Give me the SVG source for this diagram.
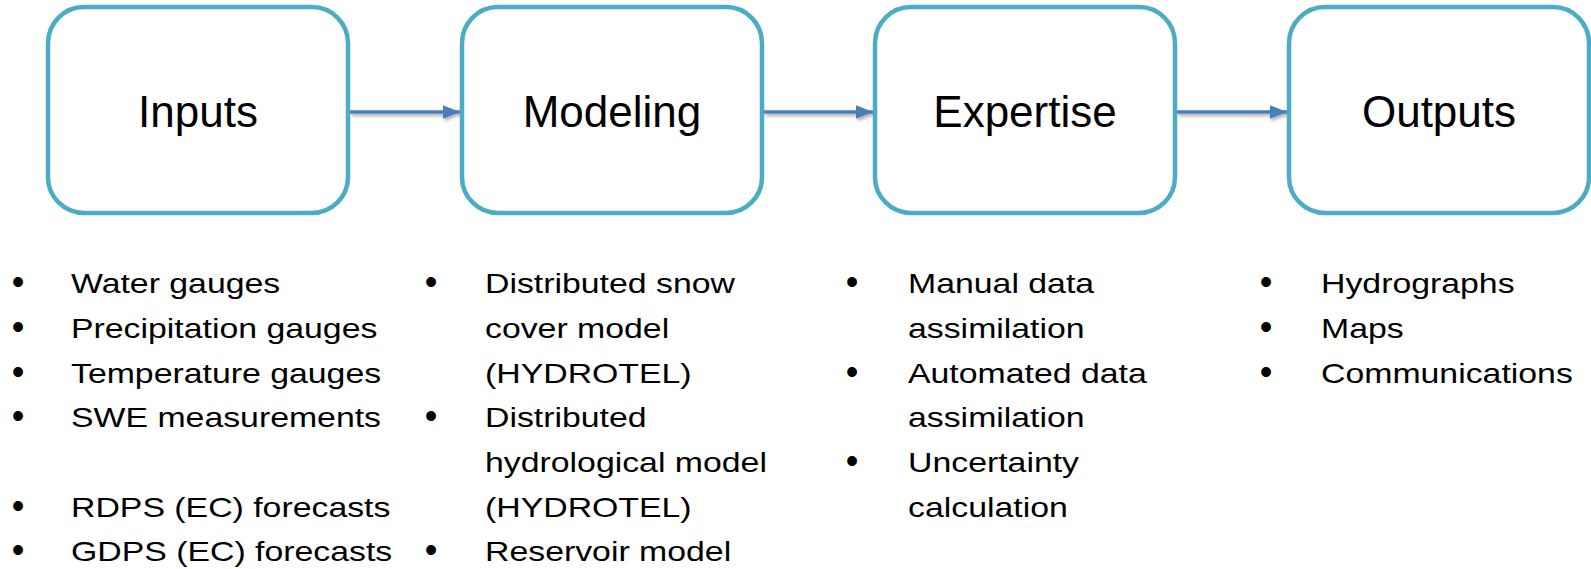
<svg xmlns="http://www.w3.org/2000/svg" width="1591" height="569" viewBox="0 0 1591 569">
<style>
.box{fill:#fff;stroke:#4bacc6;stroke-width:4.5}
.hd{font-family:"Liberation Sans",Arial,sans-serif;font-size:44px;fill:#000;text-anchor:middle}
.bt{font-family:"Liberation Sans",Arial,sans-serif;font-size:27.5px;fill:#000}
.bl{font-family:"Liberation Sans",Arial,sans-serif;font-size:36px;fill:#000;text-anchor:middle}
.arr{stroke:#4a7ebb;stroke-width:3.5;fill:none}
</style>
<defs>
<marker id="ah" markerWidth="5" markerHeight="4" refX="5" refY="2" orient="auto" markerUnits="strokeWidth">
<path d="M0,0 L5,2 L0,4 z" fill="#4a7ebb"/>
</marker>
<filter id="sh" filterUnits="userSpaceOnUse" x="300" y="80" width="1050" height="70">
<feDropShadow dx="1.5" dy="2.5" stdDeviation="1.5" flood-color="#000" flood-opacity="0.3"/>
</filter>
</defs>
<rect width="1591" height="569" fill="#fff"/>
<g id="connectors" filter="url(#sh)">
<line class="arr" x1="350" y1="112" x2="460" y2="112" marker-end="url(#ah)"/>
<line class="arr" x1="764" y1="112" x2="873" y2="112" marker-end="url(#ah)"/>
<line class="arr" x1="1177" y1="112" x2="1287" y2="112" marker-end="url(#ah)"/>
</g>
<g id="inputs">
<rect class="box" x="48" y="7" width="300" height="206" rx="36" ry="36"/>
<text class="hd" x="198" y="127">Inputs</text>
</g>
<g id="modeling">
<rect class="box" x="462" y="7" width="300" height="206" rx="36" ry="36"/>
<text class="hd" x="612" y="127">Modeling</text>
</g>
<g id="expertise">
<rect class="box" x="875" y="7" width="300" height="206" rx="36" ry="36"/>
<text class="hd" x="1025" y="127">Expertise</text>
</g>
<g id="outputs">
<rect class="box" x="1289" y="7" width="300" height="206" rx="36" ry="36"/>
<text class="hd" x="1439" y="127">Outputs</text>
</g>
<g id="inputs-list">
<text class="bl" x="18" y="294">•</text>
<text class="bl" x="18" y="339">•</text>
<text class="bl" x="18" y="384">•</text>
<text class="bl" x="18" y="428">•</text>
<text class="bl" x="18" y="518">•</text>
<text class="bl" x="18" y="562">•</text>
<g transform="translate(71 0) scale(1.23 1)">
<text class="bt" x="0" y="293">Water gauges</text>
<text class="bt" x="0" y="338">Precipitation gauges</text>
<text class="bt" x="0" y="383">Temperature gauges</text>
<text class="bt" x="0" y="427">SWE measurements</text>
<text class="bt" x="0" y="517">RDPS (EC) forecasts</text>
<text class="bt" x="0" y="561">GDPS (EC) forecasts</text>
</g>
</g>
<g id="modeling-list">
<text class="bl" x="431" y="294">•</text>
<text class="bl" x="431" y="428">•</text>
<text class="bl" x="431" y="562">•</text>
<g transform="translate(485 0) scale(1.23 1)">
<text class="bt" x="0" y="293">Distributed snow</text>
<text class="bt" x="0" y="338">cover model</text>
<text class="bt" x="0" y="383">(HYDROTEL)</text>
<text class="bt" x="0" y="427">Distributed</text>
<text class="bt" x="0" y="472">hydrological model</text>
<text class="bt" x="0" y="517">(HYDROTEL)</text>
<text class="bt" x="0" y="561">Reservoir model</text>
</g>
</g>
<g id="expertise-list">
<text class="bl" x="852" y="294">•</text>
<text class="bl" x="852" y="384">•</text>
<text class="bl" x="852" y="473">•</text>
<g transform="translate(908 0) scale(1.23 1)">
<text class="bt" x="0" y="293">Manual data</text>
<text class="bt" x="0" y="338">assimilation</text>
<text class="bt" x="0" y="383">Automated data</text>
<text class="bt" x="0" y="427">assimilation</text>
<text class="bt" x="0" y="472">Uncertainty</text>
<text class="bt" x="0" y="517">calculation</text>
</g>
</g>
<g id="outputs-list">
<text class="bl" x="1266" y="294">•</text>
<text class="bl" x="1266" y="339">•</text>
<text class="bl" x="1266" y="384">•</text>
<g transform="translate(1321 0) scale(1.23 1)">
<text class="bt" x="0" y="293">Hydrographs</text>
<text class="bt" x="0" y="338">Maps</text>
<text class="bt" x="0" y="383">Communications</text>
</g>
</g>
</svg>
